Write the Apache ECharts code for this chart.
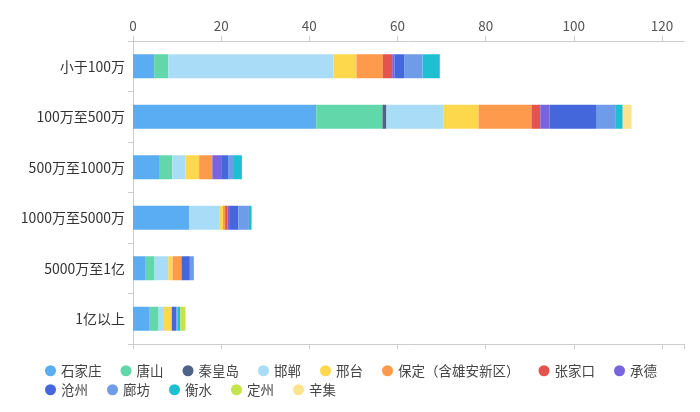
<!DOCTYPE html>
<html><head><meta charset="utf-8">
<script src="https://cdn.jsdelivr.net/npm/echarts@6/dist/echarts.min.js"></script>
<style>html,body{margin:0;padding:0;background:#fff}#c{width:700px;height:412px}</style>
</head><body><div id="c"></div>
<script>
var categories = ['小于100万','100万至500万','500万至1000万','1000万至5000万','5000万至1亿','1亿以上'];
var cities = ['石家庄','唐山','秦皇岛','邯郸','邢台','保定（含雄安新区）','张家口','承德','沧州','廊坊','衡水','定州','辛集'];
var colors = ['#5AADF2','#62D7AA','#4E6388','#A9DCF7','#FDD84D','#FD9A4B','#E4534F','#7864DF','#4468DC','#6E9CE8','#1FBFD2','#C5E34B','#FDE38C'];
var xTicks = [0,20,40,60,80,100,120];
// values per city, ordered as categories
var s_shijiazhuang = [4.8, 41.6, 5.9, 12.7, 2.9, 3.8];
var s_tangshan     = [3.2, 15.0, 3.0, 0,    2.0, 2.0];
var s_qinhuangdao  = [0,   0.9,  0,   0,    0,   0];
var s_handan       = [37.5,13.0, 3.0, 7.0,  3.1, 1.0];
var s_xingtai      = [5.2, 7.9,  3.1, 0.7,  1.0, 2.0];
var s_baoding      = [6.0, 12.0, 3.0, 0.5,  2.0, 0];
var s_zhangjiakou  = [2.1, 2.0,  0,   0.5,  0,   0];
var s_chengde      = [0.5, 2.1,  2.0, 0.6,  0,   0];
var s_cangzhou     = [2.2, 10.7, 1.7, 1.9,  1.9, 1.0];
var s_langfang     = [4.2, 4.2,  1.0, 2.4,  0.9, 0.3];
var s_hengshui     = [3.9, 1.7,  2.0, 0.6,  0,   0.6];
var s_dingzhou     = [0,   0,    0,   0,    0,   1.2];
var s_xinji        = [0,   2.0,  0,   0,    0,   0];
var seriesData = [s_shijiazhuang,s_tangshan,s_qinhuangdao,s_handan,s_xingtai,s_baoding,s_zhangjiakou,s_chengde,s_cangzhou,s_langfang,s_hengshui,s_dingzhou,s_xinji];

var chart = echarts.init(document.getElementById('c'), null, {renderer:'canvas'});
var font = '"Noto Sans CJK SC","Noto Sans",sans-serif';
var axisCommon = {
  type:'value', min:0, max:125, interval:20,
  splitLine:{show:false},
  axisLine:{show:true, lineStyle:{color:'#ccc'}},
  axisTick:{show:true, lineStyle:{color:'#ccc'}}
};
var legendCommon = {
  left:40, icon:'circle', itemWidth:11, itemHeight:11, itemGap:19,
  textStyle:{fontSize:13.5, color:'#444', fontFamily:font}
};
chart.setOption({
  color: colors,
  textStyle:{fontFamily:font},
  grid:{left:133, right:16, top:41, bottom:68, containLabel:false},
  legend:[
    Object.assign({}, legendCommon, {data: cities.slice(0,8), top:359}),
    Object.assign({}, legendCommon, {data: cities.slice(8), top:378})
  ],
  xAxis:[
    Object.assign({}, axisCommon, {position:'top',
      axisLabel:{show:true, color:'#555', fontSize:13.5, showMaxLabel:false, margin:8,
        formatter:function(v){return xTicks.indexOf(v)>=0? String(v):'';}}}),
    Object.assign({}, axisCommon, {position:'bottom', axisLabel:{show:false}})
  ],
  yAxis:{
    type:'category', data:categories, inverse:true,
    axisLine:{show:true, lineStyle:{color:'#ccc'}},
    axisTick:{show:true, lineStyle:{color:'#ccc'}},
    axisLabel:{color:'#333', fontSize:14, margin:8}
  },
  series: cities.map(function(n,i){
    return {name:n, type:'bar', stack:'total', xAxisIndex:0, barWidth:24,
      data: seriesData[i], itemStyle:{color:colors[i]}};
  })
});
</script></body></html>
